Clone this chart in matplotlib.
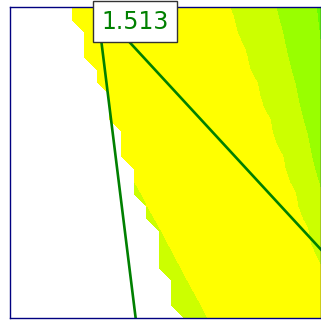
import numpy as np
import matplotlib
matplotlib.use("Agg")
import matplotlib.pyplot as plt

N = np.nan

# grid coordinates (columns left->right, rows top->bottom)
x_grid = list(range(26))
y_grid = list(range(25, -1, -1))

# field values (NaN = blank/white region)
z_rows = [
    [N,N,N,N,N,66,53,40,27,14,1,11,24,37,50,63,76,89,104,132,159,186,216,247,278,309],
    [N,N,N,N,N,73,60,46,33,20,7,6,19,32,45,58,71,84,97,123,151,179,208,241,273,306],
    [N,N,N,N,N,N,66,53,40,26,13,0,13,26,40,53,66,79,93,113,142,171,200,234,268,302],
    [N,N,N,N,N,N,73,60,46,33,19,6,7,21,34,48,61,74,88,103,133,163,193,227,263,298],
    [N,N,N,N,N,N,80,66,53,39,26,12,2,15,29,42,56,69,83,96,123,154,185,220,257,294],
    [N,N,N,N,N,N,N,73,60,46,32,18,5,9,23,37,50,64,78,92,113,145,177,211,250,289],
    [N,N,N,N,N,N,N,80,66,53,39,25,11,3,17,31,45,59,73,87,101,135,168,201,243,284],
    [N,N,N,N,N,N,N,N,74,60,45,31,17,3,11,25,39,53,67,81,96,124,158,193,234,278],
    [N,N,N,N,N,N,N,N,81,67,52,38,24,10,5,19,33,48,62,76,90,112,148,184,225,271],
    [N,N,N,N,N,N,N,N,88,74,60,45,31,16,2,13,27,42,56,71,85,100,137,174,215,264],
    [N,N,N,N,N,N,N,N,N,82,67,52,37,23,8,7,21,36,51,65,80,95,125,163,203,255],
    [N,N,N,N,N,N,N,N,N,89,74,60,45,30,15,0,15,30,45,60,74,89,111,152,193,246],
    [N,N,N,N,N,N,N,N,N,97,82,67,52,37,22,7,8,23,39,54,69,84,99,139,182,235],
    [N,N,N,N,N,N,N,N,N,N,90,75,59,44,29,14,2,17,32,48,63,78,93,126,170,222],
    [N,N,N,N,N,N,N,N,N,N,98,83,67,52,36,21,5,10,26,41,57,72,88,110,157,206],
    [N,N,N,N,N,N,N,N,N,N,107,91,75,59,44,28,12,3,19,35,51,66,82,98,143,192],
    [N,N,N,N,N,N,N,N,N,N,N,99,83,67,51,36,20,4,12,28,44,60,76,92,127,179],
    [N,N,N,N,N,N,N,N,N,N,N,108,92,76,59,43,27,11,5,22,38,54,70,86,109,164],
    [N,N,N,N,N,N,N,N,N,N,N,N,101,84,68,51,35,18,2,15,31,48,64,80,97,148],
    [N,N,N,N,N,N,N,N,N,N,N,N,110,93,76,59,43,26,9,7,24,41,58,74,91,129],
    [N,N,N,N,N,N,N,N,N,N,N,N,119,102,85,68,51,34,17,0,17,34,51,68,85,107],
    [N,N,N,N,N,N,N,N,N,N,N,N,128,111,94,77,59,42,25,8,10,27,44,61,79,96],
    [N,N,N,N,N,N,N,N,N,N,N,N,N,121,103,86,68,51,33,16,2,19,37,55,72,90],
    [N,N,N,N,N,N,N,N,N,N,N,N,N,131,113,95,77,59,42,24,6,12,30,48,65,83],
    [N,N,N,N,N,N,N,N,N,N,N,N,N,141,123,105,87,68,50,32,14,4,22,40,58,76],
    [N,N,N,N,N,N,N,N,N,N,N,N,N,N,133,115,96,78,59,41,23,4,14,33,51,70],
]

levels = [0, 100, 200, 300, 400]
level_colors = ['#ffff00', '#ccff00', '#99ff00', '#66ff00']

# the green V-shaped line and its label
line_x = [10.1, 7.0, 25.0]
line_y = [0.0, 25.0, 5.5]
label_text = "1.513"
label_x = 10.05
label_y = 23.83

Z = np.ma.masked_invalid(np.array(z_rows, dtype=float))

fig = plt.figure(figsize=(3.21, 3.20), dpi=100)
ax = fig.add_axes([10/321, 2/320, 311/321, 311/320])
ax.contourf(x_grid, y_grid, Z, levels=levels, colors=level_colors, antialiased=False)
ax.plot(line_x, line_y, color='#008000', lw=1.9, solid_joinstyle='miter')
ax.text(label_x, label_y, label_text, ha='center', va='center', fontsize=17,
        family='DejaVu Sans', color='#008000',
        bbox=dict(boxstyle='square,pad=0.37', fc='white', ec='#333333', lw=1),
        clip_on=False, zorder=10)
ax.set_xlim(0, 25)
ax.set_ylim(0, 25)
ax.set_xticks([])
ax.set_yticks([])
for s in ax.spines.values():
    s.set_color('#000080')
    s.set_linewidth(1)
fig.savefig("out.png")
